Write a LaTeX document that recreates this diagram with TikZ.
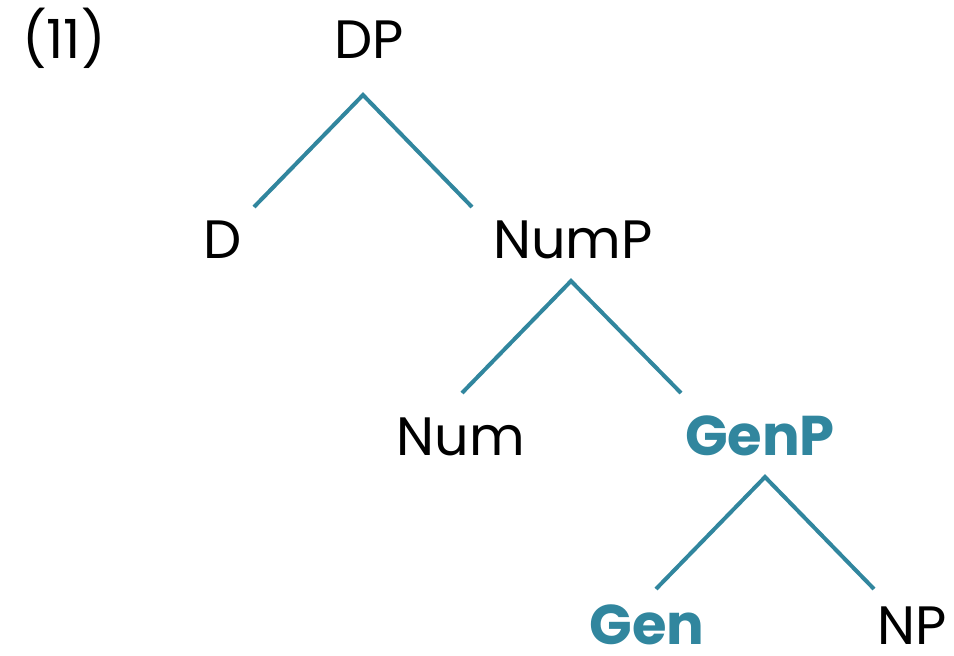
\documentclass[tikz,border=0pt]{standalone}
\usepackage{fontspec}
\setmainfont{Poppins}
\definecolor{teal}{HTML}{31869E}
\begin{document}
\begin{tikzpicture}[x=1pt,y=-1pt,
  lbl/.style={font=\fontsize{54}{60}\selectfont, anchor=base, inner sep=0pt, text depth=0pt, text=black},
  hl/.style={lbl, text=teal, font=\fontsize{56}{60}\selectfont\bfseries},
  branch/.style={draw=teal, line width=4pt, line join=miter}]
\useasboundingbox (0,0) rectangle (954,656);
\node[lbl] (ex) at (64,58) {(11)};
\node[lbl] (DP) at (369,58) {DP};
\node[lbl] (D) at (223,258) {D};
\node[lbl] (NumP) at (573,258) {NumP};
\node[lbl] (Num) at (461,455) {Num};
\node[hl] (GenP) at (760,455) {GenP};
\node[hl] (Gen) at (647,644) {Gen};
\node[lbl] (NP) at (912,644) {NP};
\coordinate (a1) at (363,95);
\coordinate (l1) at (254,207);
\coordinate (r1) at (472,207);
\coordinate (a2) at (571,281);
\coordinate (l2) at (462,393);
\coordinate (r2) at (681,393);
\coordinate (a3) at (765,477);
\coordinate (l3) at (656,589);
\coordinate (r3) at (874,589);
\draw[branch] (l1) -- (a1) -- (r1);
\draw[branch] (l2) -- (a2) -- (r2);
\draw[branch] (l3) -- (a3) -- (r3);
\end{tikzpicture}
\end{document}
